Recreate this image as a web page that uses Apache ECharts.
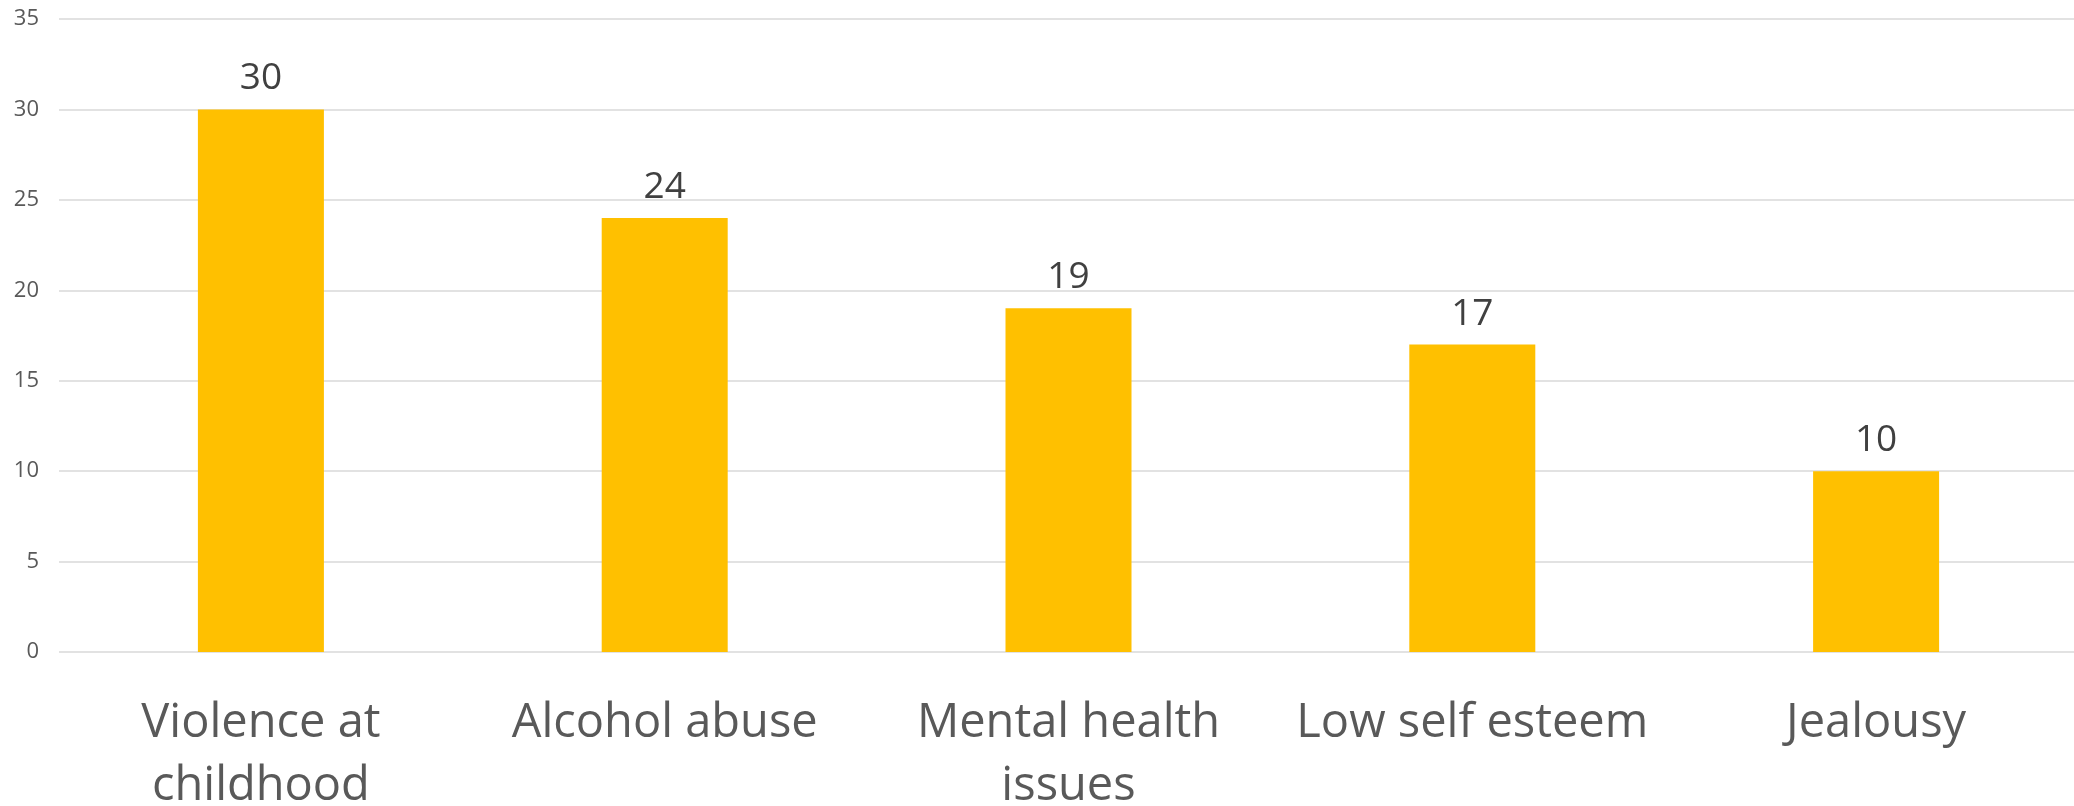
<!DOCTYPE html>
<html>
<head>
<meta charset="utf-8">
<script src="https://cdn.jsdelivr.net/npm/echarts@6/dist/echarts.min.js"></script>
<style>html,body{margin:0;padding:0;background:#fff}#c{width:2074px;height:806px}</style>
</head>
<body>
<div id="c"></div>
<script>
const categories = ['Violence at\nchildhood', 'Alcohol abuse', 'Mental health\nissues', 'Low self esteem', 'Jealousy'];
const values = [30, 24, 19, 17, 10];
const yTicks = { min: 0, max: 35, interval: 5 };

const chart = echarts.init(document.getElementById('c'), null, { renderer: 'canvas' });
chart.setOption({
  animation: false,
  grid: { left: 59, right: -4, top: 19, bottom: 154, containLabel: false, outerBoundsMode: 'none' },
  xAxis: {
    type: 'category',
    data: categories,
    axisLine: { show: false },
    axisTick: { show: false },
    axisLabel: {
      color: '#595959', fontFamily: 'Open Sans', fontSize: 47, lineHeight: 63,
      margin: 40, interval: 0
    }
  },
  yAxis: {
    type: 'value', min: yTicks.min, max: yTicks.max, interval: yTicks.interval,
    axisLine: { show: false }, axisTick: { show: false },
    axisLabel: { color: '#595959', fontFamily: 'Open Sans', fontSize: 22, margin: 20 },
    splitLine: { lineStyle: { color: '#d9d9d9', width: 1.5 } }
  },
  series: [{
    type: 'bar', data: values, barWidth: 126,
    itemStyle: { color: '#FFC000' },
    label: { show: true, position: 'top', distance: 12, color: '#404040', fontFamily: 'Open Sans', fontSize: 37 }
  }]
});
</script>
</body>
</html>
